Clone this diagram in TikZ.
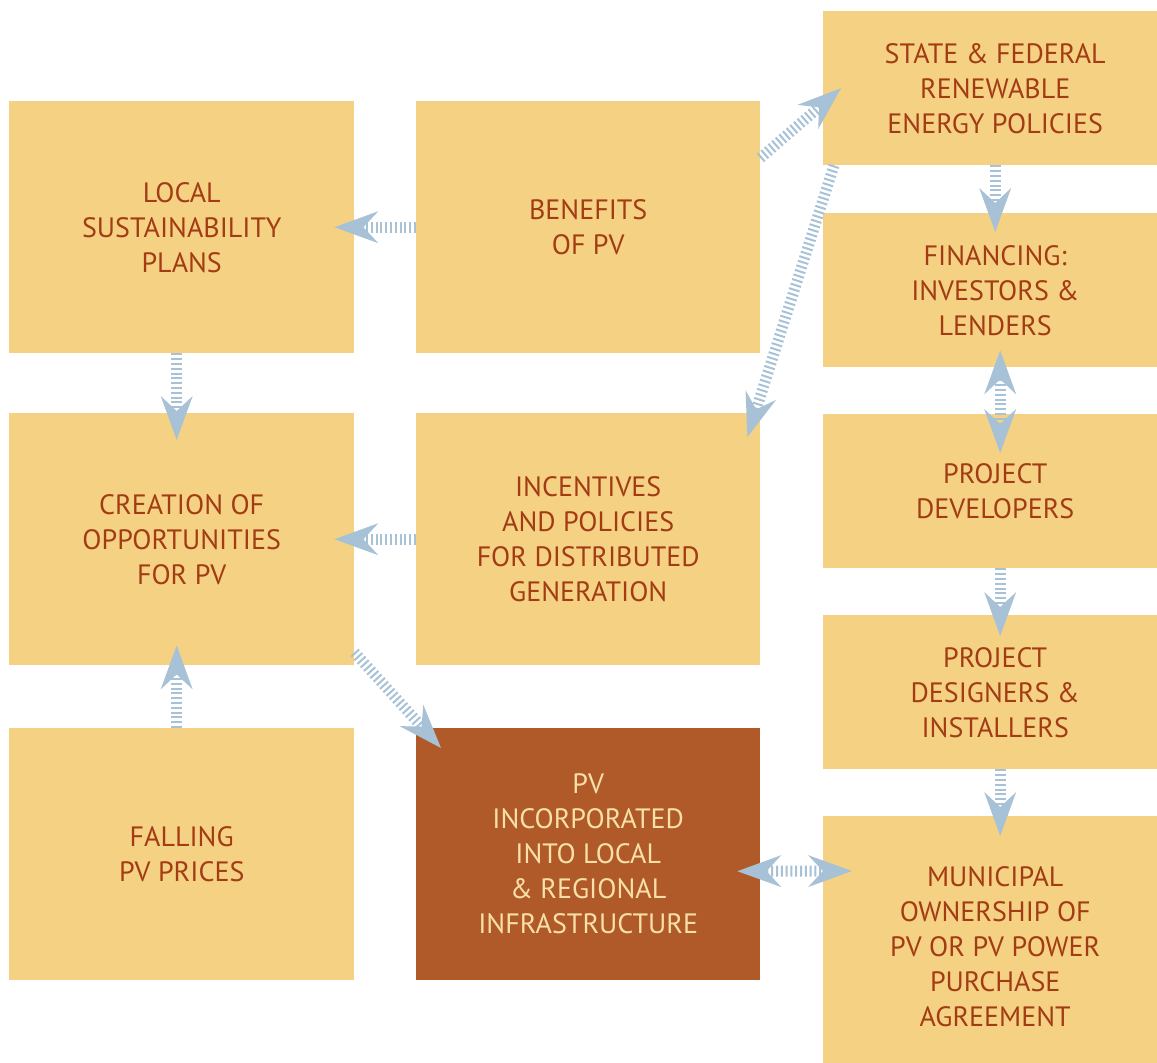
\documentclass[tikz,border=0pt]{standalone}
\usepackage{fontspec}
\setmainfont{PT Sans}
\usetikzlibrary{arrows.meta,calc}
\definecolor{boxy}{HTML}{F5D184}
\definecolor{boxd}{HTML}{B05A29}
\definecolor{txty}{HTML}{A33C14}
\definecolor{txtd}{HTML}{F8E0A8}
\definecolor{arr}{HTML}{A7C1D6}
\tikzset{
  box/.style={anchor=north west, fill=boxy, text=txty, align=center, inner sep=0pt,
    font=\fontsize{28}{35}\selectfont},
  bw/.style={minimum width=345pt},
  bh/.style={minimum height=252pt},
  rb/.style={minimum width=344pt, minimum height=154pt},
  dark/.style={fill=boxd, text=txtd},
  conn/.style={draw=arr, line width=11pt, dash pattern=on 2pt off 2.8pt,
    -{Stealth[length=44pt,width=32pt,inset=15pt,line width=0pt,fill=arr]}},
  conn2/.style={conn, {Stealth[length=44pt,width=32pt,inset=15pt,line width=0pt,fill=arr]}-{Stealth[length=44pt,width=32pt,inset=15pt,line width=0pt,fill=arr]}},
}
\begin{document}
\begin{tikzpicture}[x=1pt,y=-1pt]
\useasboundingbox (0,0) rectangle (1157,1063);
\node[box,bw,bh] (local) at (9,101) {LOCAL\\SUSTAINABILITY\\PLANS};
\node[box,minimum width=344pt,bh] (benefits) at (416,101) {BENEFITS\\OF PV};
\node[box,rb] (state) at (823,11) {STATE \& FEDERAL\\RENEWABLE\\ENERGY POLICIES};
\node[box,rb] (fin) at (823,213) {FINANCING:\\INVESTORS \&\\LENDERS};
\node[box,rb] (dev) at (823,414) {PROJECT\\DEVELOPERS};
\node[box,rb] (des) at (823,615) {PROJECT\\DESIGNERS \&\\INSTALLERS};
\node[box,minimum width=344pt,minimum height=260pt,text depth=0pt] (muni) at (823,816) {MUNICIPAL\\OWNERSHIP OF\\PV OR PV POWER\\PURCHASE\\AGREEMENT};
\node[box,bw,bh] (creation) at (9,413) {CREATION OF\\OPPORTUNITIES\\FOR PV};
\node[box,minimum width=344pt,bh] (incent) at (416,413) {INCENTIVES\\AND POLICIES\\FOR DISTRIBUTED\\GENERATION};
\node[box,bw,bh] (falling) at (9,728) {FALLING\\PV PRICES};
\node[box,dark,minimum width=344pt,bh] (pvinc) at (416,728) {PV\\INCORPORATED\\INTO LOCAL\\\& REGIONAL\\INFRASTRUCTURE};

\draw[conn] (benefits.west) -- ([xshift=-20pt]local.east);
\draw[conn] ([yshift=-57pt]benefits.north east) -- ([xshift=18pt]state.west);
\draw[conn] ([xshift=11pt]state.south west) -- ([xshift=-13pt,yshift=-24pt]incent.north east);
\draw[conn] (state.south) -- ([yshift=-19pt]fin.north);
\draw[conn2] ([xshift=5pt,yshift=17pt]fin.south) -- ([xshift=5pt,yshift=-39pt]dev.north);
\draw[conn] ([xshift=5pt]dev.south) -- ([xshift=5pt,yshift=-21pt]des.north);
\draw[conn] ([xshift=5pt]des.south) -- ([xshift=5pt,yshift=-20pt]muni.north);
\draw[conn2] ([xshift=-23pt,yshift=-17pt]pvinc.east) -- ([xshift=29pt,yshift=-55pt]muni.north west);
\draw[conn] ([xshift=-5pt]local.south) -- ([xshift=-5pt,yshift=-27pt]creation.north);
\draw[conn] (incent.west) -- ([xshift=-20pt]creation.east);
\draw[conn] ([xshift=-5pt]falling.north) -- ([xshift=-5pt,yshift=20pt]creation.south);
\draw[conn] ([yshift=13pt]creation.south east) -- ([xshift=25pt,yshift=-20pt]pvinc.north west);
\end{tikzpicture}
\end{document}
